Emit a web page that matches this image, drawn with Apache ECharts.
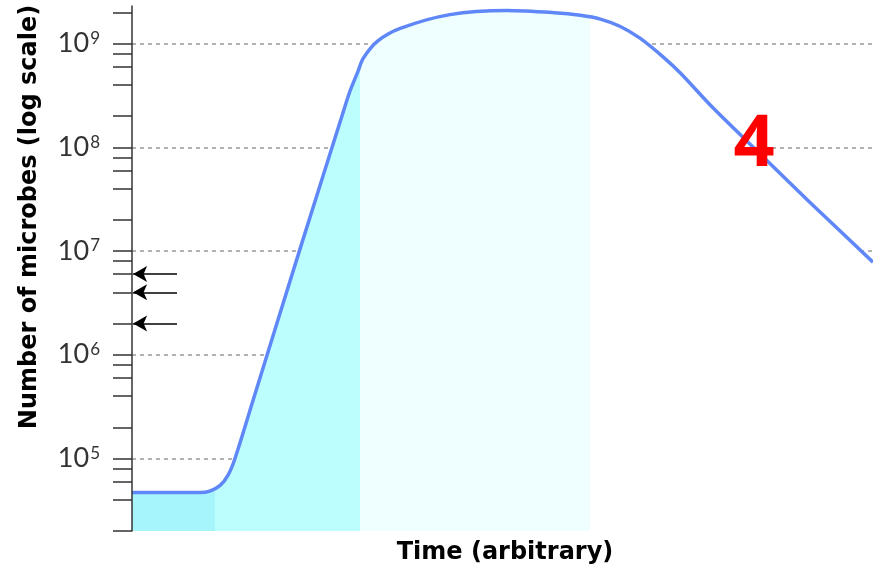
<!DOCTYPE html>
<html>
<head>
<meta charset="utf-8">
<script src="https://cdn.jsdelivr.net/npm/echarts@6/dist/echarts.min.js"></script>
<style>html,body{margin:0;padding:0;background:#fff}#c{width:873px;height:573px}</style>
</head>
<body>
<div id="c"></div>
<script>
// ---- data ----
const times    = [0, 9.2, 10.5, 11.9, 13.0, 13.9, 16.3, 22.7, 28.1, 29.4, 30.5, 31.2, 33.1, 36.2, 42.9, 50.6, 57.0, 60.5, 63.2, 65.9, 68.6, 71.7, 74.0, 78.4, 84.5, 91.5, 100];
const microbes = [4.7e4, 4.7e4, 4.85e4, 5.5e4, 7.0e4, 1.0e5, 3.56e5, 1.06e7, 1.77e8, 3.45e8, 5.4e8, 7.2e8, 1.05e9, 1.4e9, 1.9e9, 2.08e9, 1.98e9, 1.87e9, 1.72e9, 1.46e9, 1.12e9, 7.4e8, 5.2e8, 2.4e8, 9.0e7, 2.94e7, 7.8e6];
const phaseBounds = [11.2, 30.8, 61.8];
const phaseColors = ['#a6f4fc', '#bcfefe', '#effefe', '#ffffff'];
const majorTicks = [1e5, 1e6, 1e7, 1e8, 1e9];
const majorLabels = ['5', '6', '7', '8', '9'];
const minorTicks = [];
[1e4, 1e5, 1e6, 1e7, 1e8, 1e9].forEach(d => [2, 4, 6, 8, 10].forEach(m => { const v = d * m; if (v >= 2e4 && v <= 2.1e9) minorTicks.push(v); }));
const arrowLevels = [6e6, 4e6, 2e6];
const arrowSpan = [0.15, 6.07];

const chart = echarts.init(document.getElementById('c'));
const yMin = 2e4, yMax = 2.3e9;
chart.setOption({
  animation: false,
  grid: { left: 132, right: 0, top: 6, bottom: 42 },
  xAxis: {
    type: 'value', min: 0, max: 100,
    axisLine: { show: false }, axisTick: { show: false }, axisLabel: { show: false }, splitLine: { show: false }
  },
  yAxis: [
    {
      type: 'log', min: yMin, max: yMax, position: 'left', z: 10,
      axisLine: { show: true, onZero: false, lineStyle: { color: '#333', width: 1.5 } },
      axisTick: { show: true, customValues: minorTicks, length: 19, lineStyle: { color: '#333', width: 1.5 } },
      axisLabel: {
        show: true, customValues: majorTicks, margin: 32,
        formatter: v => '{a|10}{b|' + majorLabels[majorTicks.findIndex(m => Math.abs(m - v) / m < 1e-6)] + '}',
        rich: {
          a: { fontFamily: 'Lato', fontWeight: 'normal', fontSize: 27, color: '#333' },
          b: { fontFamily: 'Lato', fontWeight: 'normal', fontSize: 17, color: '#333', verticalAlign: 'top', padding: [0, 0, 0, 1] }
        }
      },
      splitLine: { show: false }
    },
    {
      type: 'log', min: yMin, max: yMax, position: 'left', z: 0,
      axisLine: { show: false, onZero: false },
      axisTick: { show: false, customValues: majorTicks },
      axisLabel: { show: false },
      splitLine: { show: true, lineStyle: { color: '#999', width: 1.5, type: [4, 4] } }
    }
  ],
  visualMap: {
    type: 'piecewise', show: false, dimension: 0, seriesIndex: 0,
    pieces: [
      { lt: phaseBounds[0], color: phaseColors[0] },
      { gte: phaseBounds[0], lt: phaseBounds[1], color: phaseColors[1] },
      { gte: phaseBounds[1], lt: phaseBounds[2], color: phaseColors[2] },
      { gte: phaseBounds[2], color: phaseColors[3] }
    ]
  },
  series: [
    {
      type: 'line', yAxisIndex: 0, z: 2,
      data: times.map((t, i) => [t, microbes[i]]),
      smooth: 0.3, showSymbol: false, symbol: 'none',
      lineStyle: { color: '#5f87f8', width: 3.5 },
      areaStyle: { origin: 'start', opacity: 1 },
      markLine: {
        silent: true, symbol: ['arrow', 'none'], symbolSize: [12, 14],
        label: { show: false },
        lineStyle: { color: '#000', width: 1.6, type: 'solid' },
        data: arrowLevels.map(v => [{ coord: [arrowSpan[0], v] }, { coord: [arrowSpan[1], v] }])
      }
    }
  ],
  graphic: [
    { type: 'text', x: 30, y: 217, rotation: Math.PI / 2, z: 20,
      style: { text: 'Number of microbes (log scale)', fontFamily: 'DejaVu Sans', fontWeight: 'bold', fontSize: 24, fill: '#000', align: 'center', verticalAlign: 'middle' } },
    { type: 'text', x: 505, y: 553, z: 20,
      style: { text: 'Time (arbitrary)', fontFamily: 'DejaVu Sans', fontWeight: 'bold', fontSize: 24, fill: '#000', align: 'center', verticalAlign: 'middle' } },
    { type: 'text', x: 754, y: 145, z: 20,
      style: { text: '4', fontFamily: 'Noto Sans', fontWeight: 'bold', fontSize: 72, fill: '#ff0000', align: 'center', verticalAlign: 'middle' } }
  ]
});
</script>
</body>
</html>
